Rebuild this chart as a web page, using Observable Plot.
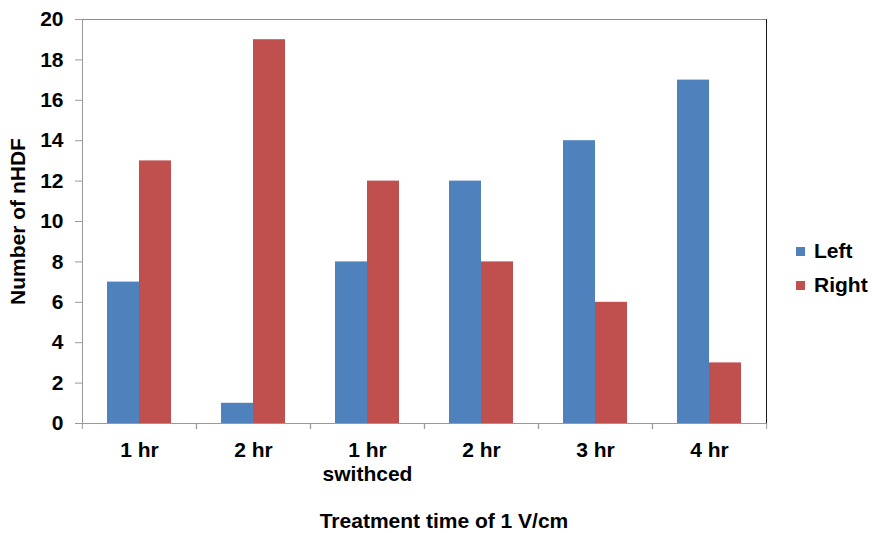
<!DOCTYPE html>
<html>
<head>
<meta charset="utf-8">
<script src="https://cdn.jsdelivr.net/npm/d3@7"></script>
<script src="https://cdn.jsdelivr.net/npm/@observablehq/plot@0.6"></script>
<style>
  html, body { margin: 0; padding: 0; background: #fff; }
  #wrap { position: relative; width: 874px; height: 533px; font-family: "Liberation Sans", Arial, sans-serif; font-weight: bold; }
  .legend-item { position: absolute; left: 796px; height: 24px; display: flex; align-items: center; font-size: 21px; color: #000; }
  .legend-item .sw { width: 9px; height: 9px; margin-right: 9px; }
  .xtitle { position: absolute; left: 0; width: 888px; top: 509px; line-height: 24px; text-align: center; font-size: 21px; color: #000; }
</style>
</head>
<body>
<div id="wrap"></div>
<script>
// ---- data ----
const categoryKeys = ["c1", "c2", "c3", "c4", "c5", "c6"];
const categoryLabels = ["1 hr", "2 hr", "1 hr\nswithced", "2 hr", "3 hr", "4 hr"];
const seriesNames = ["Left", "Right"];
const leftValues = [7, 1, 8, 12, 14, 17];
const rightValues = [13, 19, 12, 8, 6, 3];
const yTicks = [0, 2, 4, 6, 8, 10, 12, 14, 16, 18, 20];
const seriesColors = ["#4F81BD", "#C0504D"];
const yTitle = "Number of nHDF";
const xTitle = "Treatment time of 1 V/cm";

const table = categoryKeys.flatMap((c, i) => [
  {cat: c, series: "Left", value: leftValues[i]},
  {cat: c, series: "Right", value: rightValues[i]}
]);
const labelOf = Object.fromEntries(categoryKeys.map((c, i) => [c, categoryLabels[i]]));

const W = 874, H = 533, ML = 81, MR = 107, MT = 19, MB = 110;
const halfBand = (W - ML - MR) / categoryKeys.length / 2;

const chart = Plot.plot({
  width: W,
  height: H,
  marginLeft: ML,
  marginRight: MR,
  marginTop: MT,
  marginBottom: MB,
  style: {fontFamily: "'Liberation Sans', Arial, sans-serif", fontSize: "21px", fontWeight: "bold", color: "#000", background: "#fff", overflow: "visible"},
  fx: {domain: categoryKeys, padding: 0, label: null},
  x: {domain: seriesNames, paddingInner: 0, paddingOuter: 0.73, axis: null},
  y: {domain: [0, 20], axis: null},
  color: {domain: seriesNames, range: seriesColors},
  marks: [
    Plot.barY(table, {fx: "cat", x: "series", y: "value", fill: "series"}),
    Plot.frame({anchor: "top", stroke: "#8c8c8c"}),
    Plot.frame({anchor: "bottom", stroke: "#9a9a9a"}),
    Plot.frame({anchor: "left", stroke: "#9a9a9a", facetAnchor: "left"}),
    Plot.frame({anchor: "right", stroke: "#1a1a1a", facetAnchor: "right"}),
    Plot.axisY({
      ticks: yTicks, tickSize: 7, tickPadding: 12, stroke: "#9a9a9a",
      label: yTitle, labelAnchor: "center", labelArrow: "none", labelOffset: 72
    }),
    Plot.axisFx({
      anchor: "bottom",
      tickSize: 0, tickPadding: 17, tickFormat: d => labelOf[d],
      lineHeight: 1.12,
      label: null
    }),
    Plot.axisFx({anchor: "bottom", text: null, tickSize: 6, dx: -halfBand, stroke: "#9a9a9a", label: null}),
    Plot.axisFx({anchor: "bottom", text: null, tickSize: 6, dx: halfBand, stroke: "#9a9a9a", label: null})
  ]
});

const wrap = document.getElementById("wrap");
wrap.appendChild(chart);

// x axis title
const xt = document.createElement("div");
xt.className = "xtitle";
xt.textContent = xTitle;
wrap.appendChild(xt);

// legend
const legendTops = [239, 273];
seriesNames.forEach((s, i) => {
  const item = document.createElement("div");
  item.className = "legend-item";
  item.style.top = legendTops[i] + "px";
  const sw = document.createElement("span");
  sw.className = "sw";
  sw.style.background = seriesColors[i];
  const t = document.createElement("span");
  t.textContent = s;
  item.appendChild(sw);
  item.appendChild(t);
  wrap.appendChild(item);
});
</script>
</body>
</html>
